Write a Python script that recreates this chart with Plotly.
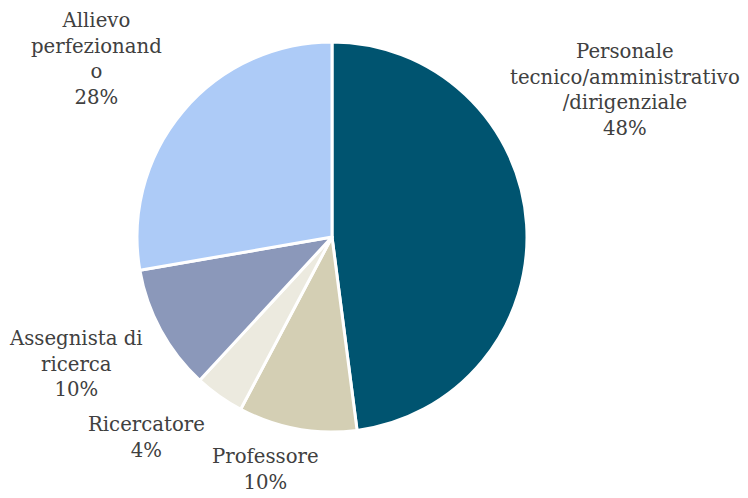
import plotly.graph_objects as go

# Data
categories = ["Personale tecnico/amministrativo/dirigenziale", "Professore", "Ricercatore",
              "Assegnista di ricerca", "Allievo perfezionando"]
display_labels = ["Personale<br>tecnico/amministrativo<br>/dirigenziale", "Professore", "Ricercatore",
                  "Assegnista di<br>ricerca", "Allievo<br>perfezionand<br>o"]
values = [47.9, 9.8, 4.1, 10.4, 27.7]
colors = ["#005470", "#D4CFB4", "#ECEADF", "#8B98BA", "#ADCBF7"]

# label block centres (pixels in the 748x498 canvas)
label_pos = [(625, 90), (265, 469), (146, 437), (76, 364), (96, 59)]

W, H = 748, 498
cx, cy, r = 332, 237, 195

fig = go.Figure(go.Pie(
    labels=categories, values=values, sort=False, direction="clockwise", rotation=0,
    marker=dict(colors=colors, line=dict(color="white", width=3)),
    textinfo="none", hoverinfo="label+percent", showlegend=False,
    domain=dict(x=[(cx - r) / W, (cx + r) / W], y=[(H - cy - r) / H, (H - cy + r) / H]),
))

total = sum(values)
for lab, v, (px, py) in zip(display_labels, values, label_pos):
    fig.add_annotation(
        text=f"{lab}<br>{round(v / total * 100)}%",
        x=px / W, y=1 - py / H, xref="paper", yref="paper",
        xanchor="center", yanchor="middle", showarrow=False, align="center",
        font=dict(family="DejaVu Serif", size=19.7, color="#404040"),
    )

fig.update_layout(width=W, height=H, margin=dict(l=0, r=0, t=0, b=0),
                  paper_bgcolor="white", plot_bgcolor="white")
fig.write_html("out.html", config={"displayModeBar": False},
               post_script="document.body.style.margin='0';document.body.style.overflow='hidden';")
